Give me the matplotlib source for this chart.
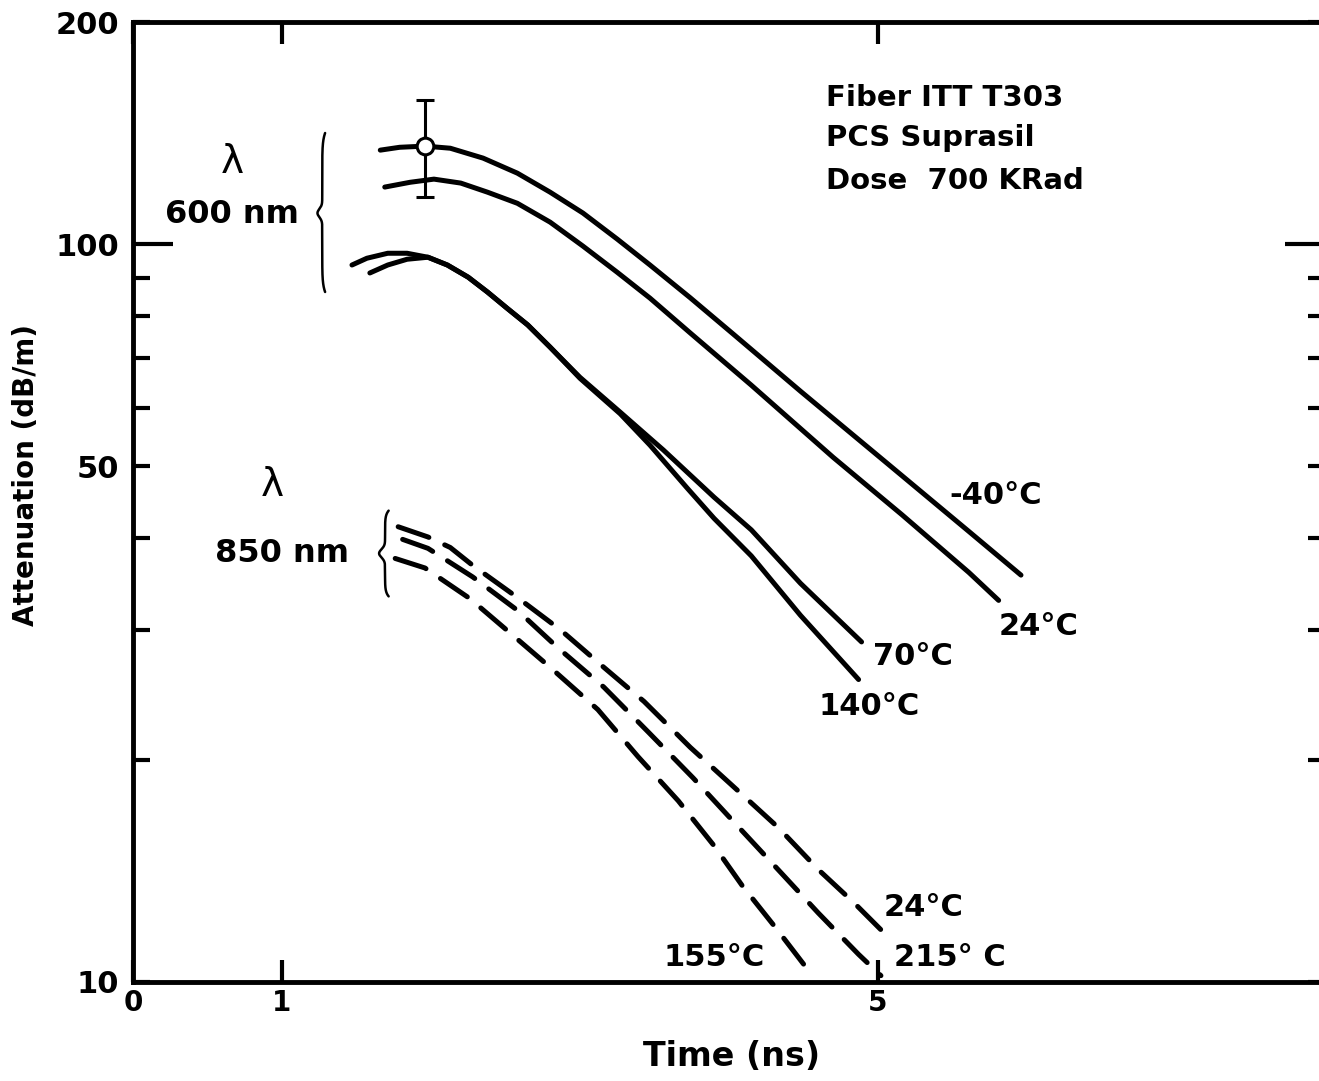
import numpy as np
import matplotlib
matplotlib.use("Agg")
import matplotlib.pyplot as plt

# ---- data (time in ns, attenuation in dB/m) ----
# 600 nm, solid curves
t_m40 = [1.66, 1.79, 1.96, 2.13, 2.35, 2.58, 2.80, 3.02, 3.25, 3.47, 3.74, 4.03, 4.48, 5.07, 5.61, 5.96]
a_m40 = [134.1, 135.3, 135.8, 134.9, 130.8, 124.8, 117.6, 110.2, 101.6, 93.7, 84.6, 75.5, 63.2, 50.3, 40.8, 35.6]

t_24 = [1.69, 1.86, 2.02, 2.20, 2.38, 2.58, 2.80, 3.02, 3.25, 3.47, 3.74, 4.15, 4.70, 5.16, 5.61, 5.81]
a_24 = [119.5, 121.3, 122.5, 121.0, 117.6, 113.6, 107.1, 99.4, 91.6, 84.5, 75.8, 64.4, 51.4, 43.0, 35.9, 32.9]

t_70 = [1.47, 1.57, 1.71, 1.84, 1.98, 2.11, 2.25, 2.38, 2.51, 2.65, 2.80, 3.00, 3.27, 3.56, 3.90, 4.15, 4.48, 4.89]
a_70 = [93.7, 95.7, 97.2, 97.2, 96.0, 93.7, 90.2, 86.1, 81.9, 77.7, 72.5, 66.0, 59.2, 52.6, 45.4, 41.0, 34.7, 28.9]

t_140 = [1.59, 1.71, 1.84, 1.98, 2.11, 2.25, 2.38, 2.51, 2.65, 2.80, 3.00, 3.27, 3.47, 3.72, 3.90, 4.15, 4.48, 4.87]
a_140 = [91.4, 93.7, 95.4, 96.0, 93.7, 90.2, 86.1, 81.9, 77.7, 72.5, 65.8, 58.9, 53.4, 46.7, 42.5, 37.8, 31.4, 25.7]

# 850 nm, dashed curves
t_d24 = [1.78, 1.98, 2.13, 2.28, 2.58, 2.87, 3.16, 3.43, 3.74, 4.03, 4.33, 4.60, 4.84, 5.07]
a_d24 = [41.4, 40.1, 38.8, 36.7, 33.2, 30.0, 26.7, 24.0, 20.8, 18.4, 16.2, 14.2, 12.8, 11.5]

t_d215 = [1.81, 1.98, 2.28, 2.58, 2.85, 3.16, 3.46, 3.76, 4.03, 4.33, 4.60, 4.87, 5.02]
a_d215 = [39.8, 38.7, 35.4, 31.9, 28.4, 25.1, 21.8, 18.9, 16.5, 14.2, 12.4, 10.9, 10.2]

t_d155 = [1.76, 1.96, 2.26, 2.55, 2.80, 3.12, 3.39, 3.66, 3.90, 4.09, 4.32, 4.56]
a_d155 = [37.5, 36.4, 33.1, 29.5, 26.7, 23.4, 20.2, 17.6, 15.3, 13.5, 11.8, 10.2]

# error bar on the -40 C curve
err_t = 1.96
err_a = 135.8
err_lo = 115.8
err_hi = 156.7

xticks = [0, 1, 5]
xticklabels = ["0", "1", "5"]
ymajor = [100]
yminor = [10, 20, 30, 40, 50, 60, 70, 80, 90, 200]
yminor_labels = ["10", "", "", "", "50", "", "", "", "", "200"]

plt.rcParams['font.family'] = ['DejaVu Sans']

fig = plt.figure(figsize=(13.19, 10.81), dpi=100)
ax = fig.add_axes([0.1008, 0.0916, 0.9037, 0.888])

lw = 3.6
for t, a in [(t_m40, a_m40), (t_24, a_24), (t_70, a_70), (t_140, a_140)]:
    ax.plot(t, a, color='black', lw=lw, solid_capstyle='round', solid_joinstyle='round')

for t, a in [(t_d24, a_d24), (t_d215, a_d215), (t_d155, a_d155)]:
    ax.plot(t, a, color='black', lw=lw, dashes=(6.5, 3.5), dash_capstyle='round')

ax.errorbar([err_t], [err_a], yerr=[[err_a - err_lo], [err_hi - err_a]],
            fmt='o', color='black', mfc='white', mec='black', ms=12, mew=2.2,
            elinewidth=2.2, capsize=6.5, capthick=2.5, zorder=5)

ax.set_yscale('log')
ax.set_xlim(0, 8)
ax.set_ylim(10, 200)

ax.set_xticks(xticks, xticklabels)
ax.set_yticks(ymajor, ["100"])
ax.set_yticks(yminor, yminor_labels, minor=True)
ax.xaxis.set_minor_locator(plt.NullLocator())

ax.tick_params(axis='x', which='major', direction='in', top=True, length=16, width=3,
               pad=5, labelsize=20)
ax.tick_params(axis='y', which='major', direction='in', right=True, length=29, width=3,
               pad=10, labelsize=22)
ax.tick_params(axis='y', which='minor', direction='in', right=True, length=12, width=3,
               pad=10, labelsize=22)
for lab in ax.get_xticklabels() + ax.get_yticklabels() + ax.get_yticklabels(minor=True):
    lab.set_fontweight('bold')

for s in ax.spines.values():
    s.set_linewidth(3.5)

ax.set_xlabel("Time (ns)", fontsize=24, fontweight='bold')
ax.set_ylabel("Attenuation (dB/m)", fontsize=20, fontweight='bold')
ax.xaxis.set_label_coords(0.502, -0.060)
ax.yaxis.set_label_coords(-0.078, 0.528)

# annotations
ax.text(4.65, 157.7, "Fiber ITT T303", fontsize=21, fontweight='bold', va='center')
ax.text(4.65, 139.2, "PCS Suprasil", fontsize=21, fontweight='bold', va='center')
ax.text(4.65, 121.7, "Dose  700 KRad", fontsize=21, fontweight='bold', va='center')

temp_labels = [("-40°C", 5.48, 45.7), ("24°C", 5.81, 30.3), ("70°C", 4.97, 27.6),
               ("140°C", 4.60, 23.6), ("24°C", 5.04, 12.6), ("215° C", 5.11, 10.78),
               ("155°C", 3.56, 10.78)]
for txt, x, y in temp_labels:
    ax.text(x, y, txt, fontsize=22, fontweight='bold', va='center', ha='left')

ax.text(0.665, 129.2, "λ", fontsize=28, ha='center', va='center')
ax.text(0.665, 109.8, "600 nm", fontsize=23, fontweight='bold', ha='center', va='center')
ax.text(0.934, 47.1, "λ", fontsize=28, ha='center', va='center')
ax.text(1.0, 38.1, "850 nm", fontsize=23, fontweight='bold', ha='center', va='center')


def brace(ax, xc, ytop, ybot, ymid, w):
    ys = np.linspace(ybot, ytop, 400)
    h = np.where(ys > ymid, ytop - ymid, ymid - ybot)
    u = (ys - ymid) / h
    xs = xc - w * np.exp(-((ys - ymid) / 0.006) ** 2) + 0.6 * w * np.abs(u) ** 10
    ax.plot(xs, ys, color='black', lw=1.8, transform=ax.transAxes, solid_capstyle='round')


brace(ax, 0.1588, 0.8844, 0.7188, 0.801, 0.004)
brace(ax, 0.2115, 0.4910, 0.4017, 0.4465, 0.005)

fig.savefig("out.png", dpi=100)
